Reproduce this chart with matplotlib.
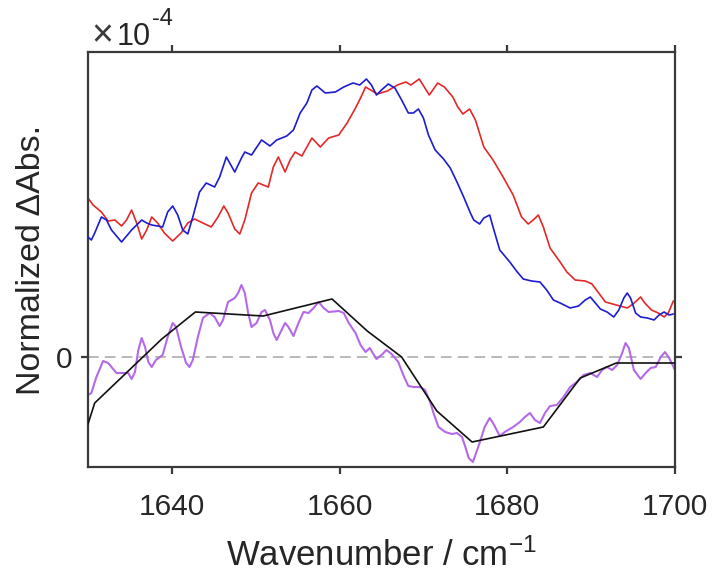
import matplotlib
matplotlib.use("Agg")
import matplotlib.pyplot as plt
import numpy as np

plt.rcParams['font.family'] = ['Liberation Sans', 'DejaVu Sans']
plt.rcParams['mathtext.fontset'] = 'custom'
plt.rcParams['mathtext.rm'] = 'Liberation Sans'
plt.rcParams['mathtext.it'] = 'Liberation Sans:italic'
plt.rcParams['mathtext.bf'] = 'Liberation Sans:bold'

# ---- data (values in units of 1e-4) ----
wn_blue = [1630.0, 1630.4, 1630.8, 1631.6, 1632.2, 1632.8, 1634.0, 1635.2, 1636.4, 1637.0,
           1637.6, 1638.3, 1638.9, 1639.5, 1640.1, 1640.7, 1641.3, 1641.9, 1642.5, 1643.3,
           1644.1, 1645.1, 1645.7, 1646.5, 1647.5, 1648.3, 1648.7, 1649.5, 1650.7, 1651.7,
           1652.5, 1653.7, 1654.5, 1655.3, 1656.1, 1656.7, 1657.3, 1658.3, 1659.5, 1660.5,
           1661.6, 1662.4, 1663.2, 1663.8, 1664.4, 1665.0, 1665.8, 1666.6, 1667.4, 1668.2,
           1668.8, 1669.4, 1670.0, 1670.6, 1671.4, 1672.4, 1673.2, 1674.0, 1674.8, 1675.6,
           1676.0, 1676.7, 1677.2, 1677.9, 1678.3, 1679.1, 1680.3, 1681.1, 1681.9, 1682.9,
           1683.9, 1684.7, 1685.5, 1686.3, 1687.5, 1688.5, 1689.3, 1689.9, 1690.5, 1691.1,
           1691.9, 1692.7, 1693.3, 1693.9, 1694.3, 1694.7, 1695.3, 1695.9, 1696.7, 1697.5,
           1698.1, 1698.7, 1699.3, 1699.8]
abs_blue = [1.20, 1.17, 1.24, 1.40, 1.37, 1.27, 1.15, 1.27, 1.37, 1.34,
            1.32, 1.31, 1.30, 1.45, 1.51, 1.42, 1.27, 1.23, 1.40, 1.65,
            1.74, 1.70, 1.80, 2.00, 1.85, 1.99, 2.05, 2.02, 2.17, 2.11,
            2.17, 2.21, 2.27, 2.44, 2.54, 2.67, 2.71, 2.64, 2.65, 2.70,
            2.74, 2.72, 2.78, 2.72, 2.62, 2.67, 2.73, 2.69, 2.57, 2.44,
            2.44, 2.48, 2.39, 2.22, 2.07, 1.98, 1.89, 1.75, 1.60, 1.44,
            1.37, 1.33, 1.39, 1.42, 1.30, 1.07, 0.95, 0.86, 0.78, 0.76,
            0.75, 0.67, 0.57, 0.54, 0.49, 0.51, 0.57, 0.60, 0.54, 0.48,
            0.45, 0.40, 0.47, 0.59, 0.64, 0.59, 0.44, 0.40, 0.39, 0.37,
            0.42, 0.45, 0.42, 0.43]

wn_red = [1630.0, 1630.6, 1631.6, 1632.4, 1633.2, 1634.0, 1634.6, 1635.2, 1635.8, 1636.4,
          1637.0, 1637.6, 1638.3, 1639.1, 1640.1, 1641.1, 1641.9, 1642.7, 1643.7, 1644.7,
          1645.5, 1646.2, 1646.7, 1647.5, 1648.1, 1648.7, 1649.5, 1650.3, 1651.5, 1652.1,
          1652.7, 1653.5, 1654.1, 1654.7, 1655.5, 1656.7, 1657.7, 1658.7, 1659.9, 1660.9,
          1661.9, 1662.5, 1663.1, 1663.7, 1664.5, 1665.7, 1666.9, 1667.9, 1668.5, 1669.5,
          1670.1, 1670.7, 1671.7, 1672.5, 1673.5, 1674.1, 1674.7, 1675.5, 1676.2, 1677.2,
          1678.3, 1679.5, 1680.7, 1681.7, 1682.5, 1683.1, 1683.7, 1684.3, 1685.1, 1686.3,
          1687.1, 1688.1, 1689.3, 1690.1, 1690.9, 1691.7, 1693.0, 1694.3, 1695.0, 1695.9,
          1696.4, 1697.2, 1698.0, 1698.7, 1699.2, 1699.8]
abs_red = [1.59, 1.52, 1.45, 1.36, 1.37, 1.31, 1.37, 1.47, 1.34, 1.18,
           1.27, 1.40, 1.34, 1.24, 1.16, 1.24, 1.34, 1.38, 1.34, 1.30,
           1.40, 1.51, 1.44, 1.28, 1.23, 1.37, 1.64, 1.74, 1.70, 1.90,
           2.00, 1.85, 1.97, 2.05, 2.01, 2.19, 2.10, 2.19, 2.22, 2.34,
           2.49, 2.59, 2.70, 2.67, 2.63, 2.66, 2.72, 2.75, 2.72, 2.78,
           2.70, 2.62, 2.74, 2.70, 2.60, 2.50, 2.43, 2.48, 2.37, 2.10,
           1.97, 1.80, 1.62, 1.40, 1.33, 1.37, 1.42, 1.30, 1.09, 0.95,
           0.85, 0.77, 0.76, 0.73, 0.64, 0.55, 0.52, 0.49, 0.53, 0.60,
           0.54, 0.47, 0.44, 0.40, 0.44, 0.56]

wn_diff = [1630.0, 1630.4, 1631.0, 1631.8, 1632.4, 1633.4, 1634.2, 1634.8, 1635.2, 1635.6,
           1636.0, 1636.4, 1636.8, 1637.2, 1637.6, 1638.1, 1638.9, 1639.5, 1640.1, 1640.5,
           1641.1, 1641.7, 1642.1, 1642.5, 1643.1, 1643.7, 1644.5, 1645.1, 1645.7, 1646.1,
           1646.7, 1647.5, 1647.9, 1648.3, 1648.7, 1649.1, 1649.5, 1650.1, 1650.7, 1651.1,
           1651.7, 1652.1, 1652.5, 1653.5, 1653.9, 1654.5, 1655.1, 1655.7, 1656.3, 1656.9,
           1657.5, 1658.1, 1658.7, 1659.9, 1660.5, 1661.1, 1661.9, 1662.5, 1663.1, 1663.6,
           1664.4, 1665.0, 1665.6, 1666.2, 1667.0, 1667.6, 1668.2, 1668.8, 1669.6, 1670.2,
           1670.8, 1671.2, 1671.8, 1672.6, 1673.4, 1674.0, 1674.6, 1675.0, 1675.4, 1675.9,
           1676.7, 1677.3, 1677.9, 1678.3, 1679.1, 1679.7, 1680.7, 1681.5, 1682.1, 1682.7,
           1683.3, 1683.9, 1684.5, 1685.1, 1685.9, 1686.7, 1687.5, 1688.3, 1689.1, 1689.9,
           1690.7, 1691.3, 1691.9, 1692.5, 1693.1, 1693.7, 1694.1, 1694.5, 1695.1, 1695.9,
           1696.5, 1697.1, 1697.7, 1698.3, 1698.8, 1699.3, 1700.0]
abs_diff = [-0.38, -0.36, -0.20, -0.04, -0.06, -0.16, -0.16, -0.16, -0.22, -0.15,
            0.07, 0.19, 0.10, -0.05, -0.10, -0.03, 0.02, 0.20, 0.34, 0.30,
            0.10, -0.06, -0.10, -0.03, 0.20, 0.39, 0.44, 0.40, 0.31, 0.37,
            0.55, 0.59, 0.64, 0.72, 0.64, 0.44, 0.30, 0.34, 0.45, 0.47,
            0.37, 0.24, 0.17, 0.34, 0.30, 0.21, 0.34, 0.45, 0.44, 0.49,
            0.55, 0.49, 0.45, 0.46, 0.44, 0.34, 0.24, 0.12, 0.05, 0.09,
            -0.02, 0.02, 0.07, 0.03, -0.05, -0.18, -0.29, -0.30, -0.30, -0.33,
            -0.45, -0.56, -0.70, -0.75, -0.77, -0.76, -0.80, -0.90, -1.01, -1.05,
            -0.86, -0.70, -0.61, -0.66, -0.79, -0.75, -0.70, -0.65, -0.60, -0.56,
            -0.63, -0.66, -0.56, -0.49, -0.48, -0.40, -0.30, -0.25, -0.18, -0.16,
            -0.20, -0.13, -0.10, -0.13, -0.08, 0.04, 0.14, 0.09, -0.13, -0.22,
            -0.16, -0.11, -0.10, 0.00, 0.05, -0.01, -0.13]

wn_fit = [1630.0, 1630.8, 1638.8, 1642.8, 1650.9, 1659.1, 1663.3, 1667.4, 1671.6, 1675.8,
          1684.3, 1688.7, 1693.0, 1700.0]
abs_fit = [-0.67, -0.46, 0.18, 0.45, 0.41, 0.58, 0.26, 0.0, -0.54, -0.85,
           -0.70, -0.21, -0.06, -0.06]

scale = 1e-4
xticks = [1640, 1660, 1680, 1700]
xlim = (1630, 1700)
ylim = (-1.10, 3.05)

# ---- figure ----
W, H = 716, 573
fig = plt.figure(figsize=(W / 100, H / 100), dpi=100)
ax = fig.add_axes([88 / W, 1 - 467 / H, (675 - 88) / W, (467 - 52) / H])

line_kw = dict(solid_joinstyle='round', solid_capstyle='round')
ax.axhline(0, color='#a6a6a6', lw=1.1, dashes=(7, 4), zorder=1)
ax.plot(wn_blue, np.array(abs_blue) * scale, color='#1c1cd2', lw=1.2, zorder=3, **line_kw)
ax.plot(wn_red, np.array(abs_red) * scale, color='#e42828', lw=1.2, zorder=2, **line_kw)
ax.plot(wn_fit, np.array(abs_fit) * scale, color='#111111', lw=1.2, zorder=3, **line_kw)
ax.plot(wn_diff, np.array(abs_diff) * scale, color='#b46ae8', lw=1.5, zorder=2, **line_kw)

ax.set_xlim(*xlim)
ax.set_ylim(ylim[0] * scale, ylim[1] * scale)
ax.set_xticks(xticks)
ax.set_xticklabels([str(t) for t in xticks])
ax.set_yticks([0])
ax.set_yticklabels(['0'])

for s in ax.spines.values():
    s.set_color('#3a3a3a')
    s.set_linewidth(1.6)
ax.tick_params(axis='both', which='both', direction='out', length=5, width=1.6,
               color='#3a3a3a', labelcolor='#262626', labelsize=21.5,
               top=True, right=True)
ax.tick_params(axis='x', pad=14)
ax.tick_params(axis='y', pad=6)

ax.set_xlabel('Wavenumber / cm$^{\\mathregular{-1}}$', fontsize=25, color='#262626', labelpad=12)
ax.set_ylabel('Normalized ΔAbs.', fontsize=24.5, color='#262626', labelpad=7)

# MATLAB-style exponent label at the top-left corner
fig.text(91 / W, 1 - 46 / H, '×', fontsize=27, color='#3a3a3a',
         ha='left', va='baseline', fontweight='light')
fig.text(117 / W, 1 - 45 / H, '10', fontsize=22, color='#262626',
         ha='left', va='baseline')
fig.text(152 / W, 1 - 25 / H, '-4', fontsize=17, color='#262626',
         ha='left', va='baseline')

fig.savefig('out.png', dpi=100)
